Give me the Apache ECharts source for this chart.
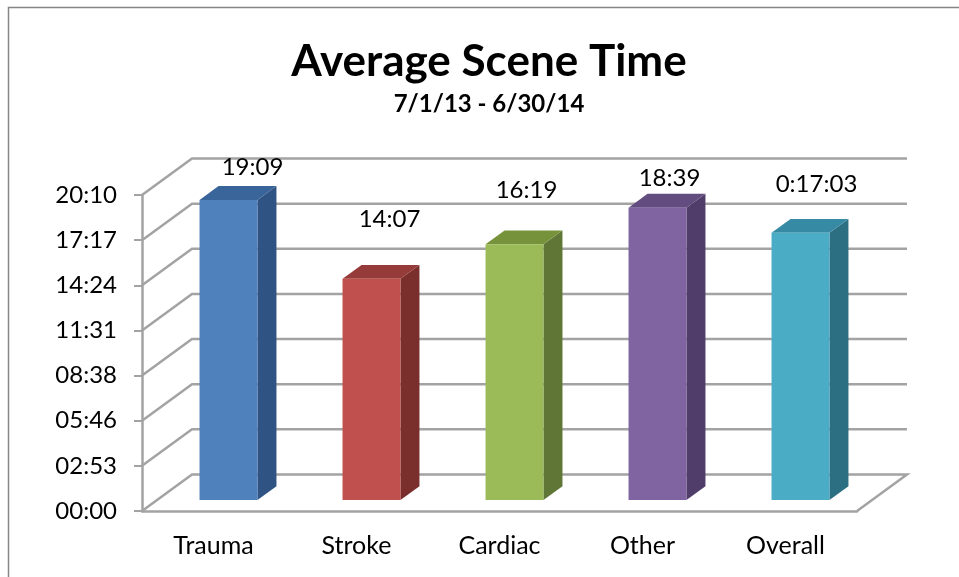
<!DOCTYPE html>
<html>
<head>
<meta charset="utf-8">
<style>
  html, body { margin: 0; padding: 0; background: #fff; }
  #chart { width: 959px; height: 577px; }
</style>
</head>
<body>
<div id="chart"></div>
<script src="https://cdn.jsdelivr.net/npm/echarts@6/dist/echarts.min.js"></script>
<script>
const categories = ["Trauma", "Stroke", "Cardiac", "Other", "Overall"];
// scene time in seconds
const sceneSeconds = [1149, 847, 979, 1119, 1023];
const valueLabels = ["19:09", "14:07", "16:19", "18:39", "0:17:03"];
// axis runs in steps of 0.002 day, as the spreadsheet had it
const axisStep = 172.8;
const axisMax = 1209.6;
const axisTicks = [0, 172.8, 345.6, 518.4, 691.2, 864, 1036.8, 1209.6];

const frontColors = ["#4f81bd", "#c0504d", "#9bbb59", "#8064a2", "#4bacc6"];
const sideColors = ["#2f5383", "#7a2f2d", "#5f7636", "#503d69", "#2c6f83"];
const topColors = ["#3a659b", "#953b39", "#76933c", "#634d80", "#378aa3"];
// hand placed labels, offset from the top of the front face
const labelNudge = [[24, -33], [18, -60], [12, -54], [12, -29], [16, -49]];

const wallDx = 50;
const wallDy = 36.5;
const gridColor = "#a3a3a3";
const font = "Lato";

function fmtTick(v) {
  const s = Math.round(v);
  const m = Math.floor(s / 60);
  return String(m).padStart(2, "0") + ":" + String(s % 60).padStart(2, "0");
}

function renderWall(params, api) {
  const cs = params.coordSys;
  const y = api.coord([0, api.value(0)])[1];
  const left = cs.x;
  const right = cs.x + cs.width;
  const points = [[left, y], [left + wallDx, y - wallDy], [right + wallDx, y - wallDy]];
  if (api.value(0) === 0) {
    // floor edge on the right side
    points.push([right, y]);
  }
  return {
    type: "polyline",
    shape: { points: points },
    style: { fill: null, stroke: gridColor, lineWidth: 2.5 },
  };
}

function renderBar(params, api) {
  const i = params.dataIndex;
  const bottom = api.coord([i, 0]);
  const top = api.coord([i, api.value(1)]);
  const band = api.size([1, 0])[0];
  const w = band * 0.405;
  const dx = wallDx * 0.38;
  const dy = wallDy * 0.38;
  const x0 = bottom[0] + wallDx * 0.3 - w / 2;
  const x1 = x0 + w;
  const y0 = bottom[1] - wallDy * 0.3;
  const y1 = top[1] - wallDy * 0.3;
  return {
    type: "group",
    children: [
      {
        type: "polygon",
        shape: { points: [[x1, y1], [x1 + dx, y1 - dy], [x1 + dx, y0 - dy], [x1, y0]] },
        style: { fill: sideColors[i] },
      },
      {
        type: "polygon",
        shape: { points: [[x0, y1], [x0 + dx, y1 - dy], [x1 + dx, y1 - dy], [x1, y1]] },
        style: { fill: topColors[i] },
      },
      {
        type: "rect",
        shape: { x: x0, y: y1, width: w, height: y0 - y1 },
        style: { fill: frontColors[i] },
      },
      {
        type: "text",
        style: {
          text: valueLabels[i],
          x: (x0 + x1) / 2 + labelNudge[i][0],
          y: y1 + labelNudge[i][1],
          fill: "#000",
          font: "24px " + font,
          align: "center",
          verticalAlign: "middle",
        },
      },
    ],
  };
}

const mychart = echarts.init(document.getElementById("chart"), null, { renderer: "canvas" });
const option = {
  animation: false,
  backgroundColor: "#fff",
  title: [
    {
      text: "Average Scene Time",
      left: 484,
      top: 35,
      textAlign: "center",
      textStyle: { fontFamily: font, fontWeight: "bold", fontSize: 44, color: "#000" },
    },
    {
      text: "7/1/13 - 6/30/14",
      left: 484,
      top: 87,
      textAlign: "center",
      textStyle: { fontFamily: font, fontWeight: "bold", fontSize: 24, color: "#000" },
    },
  ],
  graphic: [
    {
      type: "polyline",
      shape: { points: [[8.5, 577], [8.5, 7.5], [959, 7.5]] },
      style: { fill: null, stroke: "#868686", lineWidth: 1.5 },
    },
  ],
  grid: { left: 142, right: 102, top: 195, bottom: 66 },
  xAxis: {
    type: "category",
    data: categories,
    axisLine: { lineStyle: { color: gridColor, width: 2.5 } },
    axisTick: { length: 8, alignWithLabel: false, lineStyle: { color: gridColor, width: 2 } },
    axisLabel: { fontFamily: font, fontSize: 25, color: "#000", margin: 22 },
  },
  yAxis: {
    type: "value",
    min: 0,
    max: axisMax,
    interval: axisStep,
    axisLine: { show: true, lineStyle: { color: gridColor, width: 2.5 } },
    axisTick: { show: true, length: 8, lineStyle: { color: gridColor, width: 2 } },
    axisLabel: { fontFamily: font, fontSize: 24, color: "#000", margin: 25, formatter: fmtTick },
    splitLine: { show: false },
  },
  series: [
    {
      type: "custom",
      z: 1,
      silent: true,
      encode: { y: 0 },
      data: axisTicks.map((v) => [v]),
      renderItem: renderWall,
    },
    {
      type: "custom",
      z: 3,
      encode: { x: 0, y: 1 },
      data: sceneSeconds.map((v, i) => [i, v]),
      renderItem: renderBar,
    },
  ],
};
mychart.setOption(option);
</script>
</body>
</html>
